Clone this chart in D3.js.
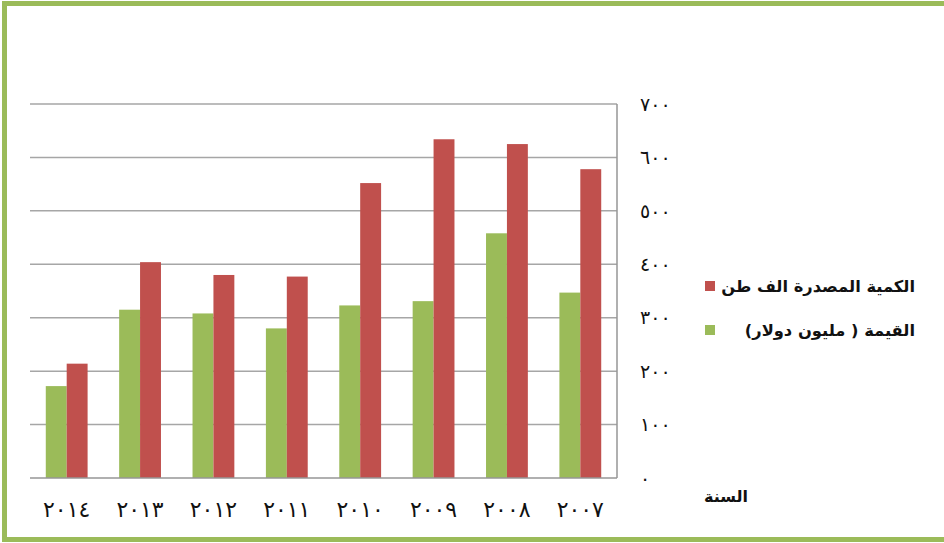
<!DOCTYPE html>
<html lang="ar">
<head>
<meta charset="utf-8">
<script src="https://cdn.jsdelivr.net/npm/d3@7"></script>
<style>
  html, body { margin: 0; padding: 0; background: #fff; }
  svg { display: block; font-family: "DejaVu Sans", sans-serif; }
</style>
</head>
<body>
<svg id="chart" width="944" height="543"></svg>
<script>
// Years, ordered right-to-left on the axis (2007 at the right)
const years = ["٢٠١٤", "٢٠١٣", "٢٠١٢", "٢٠١١", "٢٠١٠", "٢٠٠٩", "٢٠٠٨", "٢٠٠٧"];
// Value (million dollars)
const valueSeries = [172, 315, 308, 280, 323, 331, 458, 347];
// Exported quantity (thousand tonnes)
const quantitySeries = [214, 404, 380, 377, 552, 634, 625, 578];
const yTicks = [0, 100, 200, 300, 400, 500, 600, 700];
const yTickLabels = ["٠", "١٠٠", "٢٠٠", "٣٠٠", "٤٠٠", "٥٠٠", "٦٠٠", "٧٠٠"];
const seriesNames = ["الكمية المصدرة الف طن", "القيمة ( مليون دولار)"];
const axisTitle = "السنة";

const green = "#9bbb59", red = "#c0504d";
const svg = d3.select("#chart");

// Outer frame (right edge runs past the page)
svg.append("rect").attr("x", 4.5).attr("y", 3.5).attr("width", 950).attr("height", 536)
  .attr("fill", "#fff").attr("stroke", green).attr("stroke-width", 5);

const plot = { left: 30, right: 617, top: 104, bottom: 478 };

const x = d3.scaleBand().domain(years).range([plot.left, plot.right]).paddingInner(0.43).paddingOuter(0.215);
const xs = d3.scaleBand().domain(["value", "quantity"]).range([0, x.bandwidth()]);
const y = d3.scaleLinear().domain([0, 700]).range([plot.bottom, plot.top]);

// Horizontal gridlines
svg.append("g").selectAll("line").data(yTicks.filter(d => d > 0)).join("line")
  .attr("x1", plot.left).attr("x2", plot.right)
  .attr("y1", d => y(d)).attr("y2", d => y(d))
  .attr("stroke", "#a6a6a6").attr("stroke-width", 1.5);

// Bars
const groups = svg.append("g").selectAll("g").data(years).join("g")
  .attr("transform", d => `translate(${x(d)},0)`);
groups.append("rect")
  .attr("x", xs("value")).attr("width", xs.bandwidth())
  .attr("y", (d, i) => y(valueSeries[i])).attr("height", (d, i) => y(0) - y(valueSeries[i]))
  .attr("fill", green);
groups.append("rect")
  .attr("x", xs("quantity")).attr("width", xs.bandwidth())
  .attr("y", (d, i) => y(quantitySeries[i])).attr("height", (d, i) => y(0) - y(quantitySeries[i]))
  .attr("fill", red);

// Category axis (bottom) and value axis line (right)
svg.append("line").attr("x1", plot.left).attr("x2", plot.right)
  .attr("y1", plot.bottom).attr("y2", plot.bottom)
  .attr("stroke", "#969696").attr("stroke-width", 1.5);
svg.append("line").attr("x1", plot.right).attr("x2", plot.right)
  .attr("y1", plot.top).attr("y2", plot.bottom)
  .attr("stroke", "#969696").attr("stroke-width", 1.5);

// Value tick labels
svg.append("g").selectAll("text").data(yTicks).join("text")
  .attr("x", 640).attr("y", d => y(d)).attr("dy", "0.35em")
  .attr("font-size", 19).attr("letter-spacing", 2).attr("fill", "#111").attr("text-anchor", "start")
  .text((d, i) => yTickLabels[i]);

// Year labels
svg.append("g").selectAll("text").data(years).join("text")
  .attr("x", d => x(d) + x.bandwidth() / 2).attr("y", 509).attr("dy", "0.35em")
  .attr("font-size", 22).attr("fill", "#111").attr("text-anchor", "middle")
  .text(d => d);

// Axis title
svg.append("text").attr("x", 748).attr("y", 496).attr("dy", "0.35em")
  .attr("direction", "rtl").attr("text-anchor", "start")
  .attr("font-size", 16).attr("font-weight", "bold")
  .attr("fill", "#111").text(axisTitle);

// Legend
const legend = svg.append("g");
const legendColors = [red, green];
const legendY = [286, 330];
seriesNames.forEach((name, i) => {
  legend.append("rect").attr("x", 705).attr("y", legendY[i] - 5).attr("width", 10).attr("height", 10)
    .attr("fill", legendColors[i]);
  legend.append("text").attr("x", 915).attr("y", legendY[i]).attr("dy", "0.35em")
    .attr("direction", "rtl").attr("text-anchor", "start")
    .attr("font-size", 16.3).attr("font-weight", "bold")
    .attr("fill", "#111").text(name);
});
</script>
</body>
</html>
